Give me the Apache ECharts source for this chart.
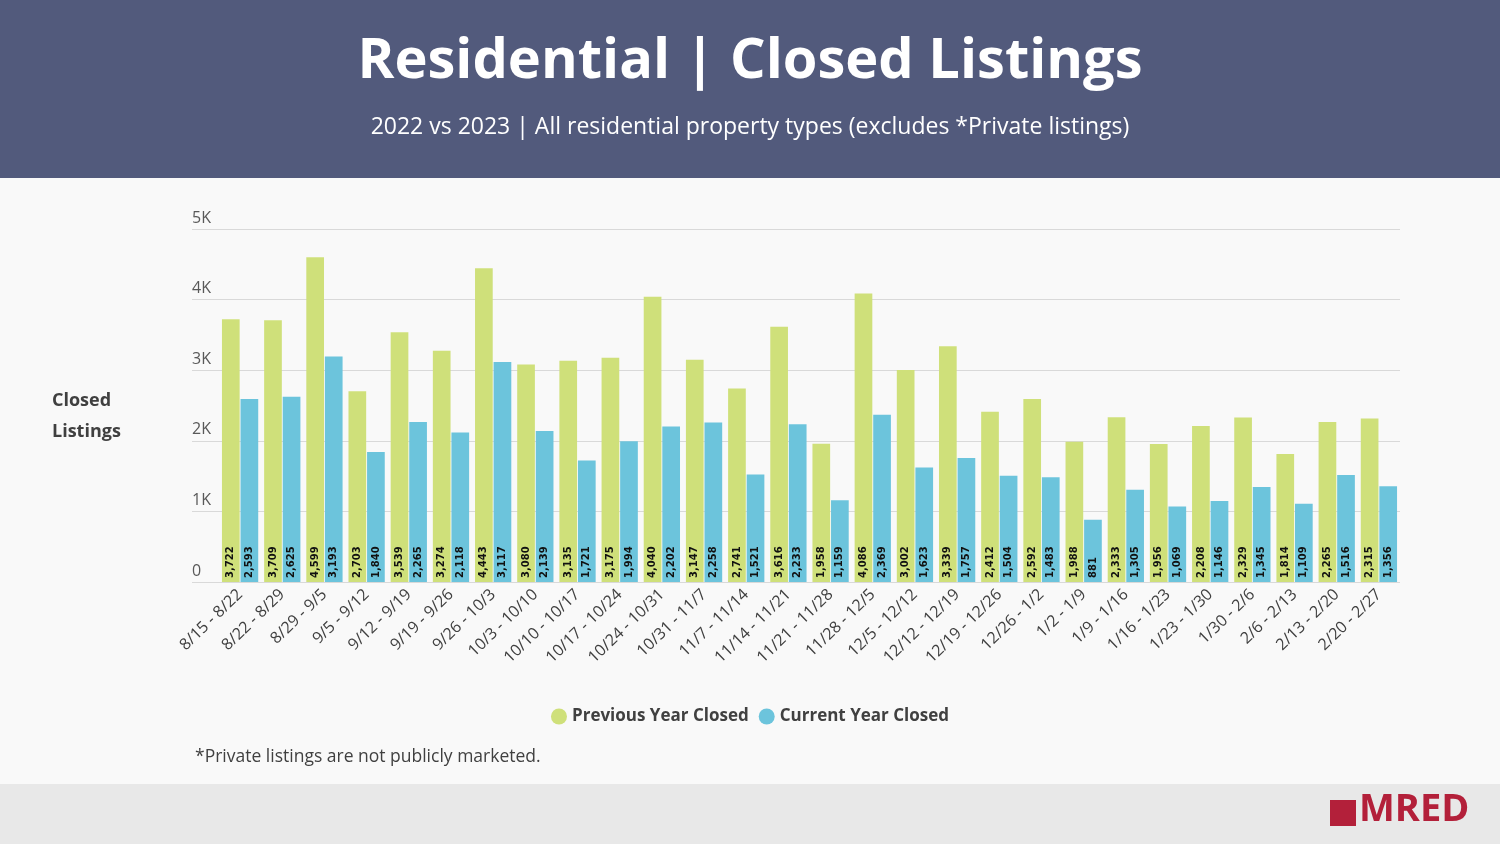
<!DOCTYPE html>
<html>
<head>
<meta charset="utf-8">
<script src="https://cdn.jsdelivr.net/npm/echarts@6/dist/echarts.min.js"></script>
<style>
html,body{margin:0;padding:0;background:#f9f9f9;}
#chart{width:1500px;height:844px;}
</style>
</head>
<body>
<div id="chart"></div>
<script>
const categories = ["8/15 - 8/22","8/22 - 8/29","8/29 - 9/5","9/5 - 9/12","9/12 - 9/19","9/19 - 9/26","9/26 - 10/3","10/3 - 10/10","10/10 - 10/17","10/17 - 10/24","10/24 - 10/31","10/31 - 11/7","11/7 - 11/14","11/14 - 11/21","11/21 - 11/28","11/28 - 12/5","12/5 - 12/12","12/12 - 12/19","12/19 - 12/26","12/26 - 1/2","1/2 - 1/9","1/9 - 1/16","1/16 - 1/23","1/23 - 1/30","1/30 - 2/6","2/6 - 2/13","2/13 - 2/20","2/20 - 2/27"];
const previousYearClosed = [3722,3709,4599,2703,3539,3274,4443,3080,3135,3175,4040,3147,2741,3616,1958,4086,3002,3339,2412,2592,1988,2333,1956,2208,2329,1814,2265,2315];
const currentYearClosed = [2593,2625,3193,1840,2265,2118,3117,2139,1721,1994,2202,2258,1521,2233,1159,2369,1623,1757,1504,1483,881,1305,1069,1146,1345,1109,1516,1356];
const yTickLabels = ["0","1K","2K","3K","4K","5K"];

const chart = echarts.init(document.getElementById('chart'));
const labelCfg = {
  show: true,
  position: 'insideBottom',
  rotate: 90,
  align: 'left',
  verticalAlign: 'middle',
  distance: 4,
  fontFamily: 'DejaVu Sans',
  fontWeight: 'bold',
  fontSize: 10,
  color: '#111',
  formatter: p => p.value.toLocaleString('en-US')
};
chart.setOption({
  backgroundColor: '#f9f9f9',
  animation: false,
  textStyle: {fontFamily: 'Open Sans'},
  graphic: [
    {type:'rect', left:0, top:0, shape:{width:1500, height:178}, style:{fill:'#525a7c'}, z:-1},
    {type:'rect', left:0, top:784, shape:{width:1500, height:60}, style:{fill:'#e8e8e8'}, z:-1},
    {type:'text', left:'center', top:34, style:{text:'Residential | Closed Listings', fill:'#fff', font:'bold 56px "Open Sans"'}},
    {type:'text', left:'center', top:116, style:{text:'2022 vs 2023 | All residential property types (excludes *Private listings)', fill:'#fff', font:'23px "Open Sans"'}},
    {type:'text', left:52, top:385, style:{text:'Closed\nListings', fill:'#404040', font:'bold 18px "Open Sans"', lineHeight:31}},
    {type:'text', left:195, top:748, style:{text:'*Private listings are not publicly marketed.', fill:'#404040', font:'17.5px "Open Sans"'}},
    {type:'rect', left:1330, top:800, shape:{width:26, height:26}, style:{fill:'#b3203a'}},
    {type:'text', left:1359, top:791, style:{text:'MRED', fill:'#b3203a', font:'bold 38px "Open Sans"'}}
  ],
  legend: {
    top: 703, left: 'center',
    icon: 'circle', itemWidth: 16, itemHeight: 16, itemGap: 10,
    textStyle: {fontSize: 17, fontWeight: 'bold', color: '#404040', fontFamily: 'Open Sans'},
    data: ['Previous Year Closed', 'Current Year Closed']
  },
  grid: [
    {left: 219, right: 100, top: 229, bottom: 262},
    {left: 192, right: 100, top: 229, bottom: 262}
  ],
  xAxis: [
    {type: 'category', gridIndex: 0, data: categories,
     axisLine: {show: false}, axisTick: {show: false},
     axisLabel: {rotate: 44, fontSize: 16, color: '#404040', margin: 10, interval: 0}},
    {type: 'value', gridIndex: 1, show: false, min: 0, max: 1}
  ],
  yAxis: [
    {type: 'value', gridIndex: 0, min: 0, max: 5000, interval: 1000, show: false},
    {type: 'value', gridIndex: 1, min: 0, max: 5000, interval: 1000,
     axisLine: {show: false}, axisTick: {show: false},
     splitLine: {lineStyle: {color: '#d9d9d9'}},
     axisLabel: {inside: true, margin: 0, verticalAlign: 'bottom', align: 'left', fontSize: 16, color: '#595959', padding: [0,0,3,0],
       formatter: (v, i) => yTickLabels[i]}}
  ],
  series: [
    {name: 'Previous Year Closed', type: 'bar', xAxisIndex: 0, yAxisIndex: 0, data: previousYearClosed,
     itemStyle: {color: '#cfe07a'}, barGap: '5%', barCategoryGap: '14%', label: labelCfg},
    {name: 'Current Year Closed', type: 'bar', xAxisIndex: 0, yAxisIndex: 0, data: currentYearClosed,
     itemStyle: {color: '#6cc4dc'}, barGap: '5%', barCategoryGap: '14%', label: labelCfg}
  ]
});
</script>
</body>
</html>
